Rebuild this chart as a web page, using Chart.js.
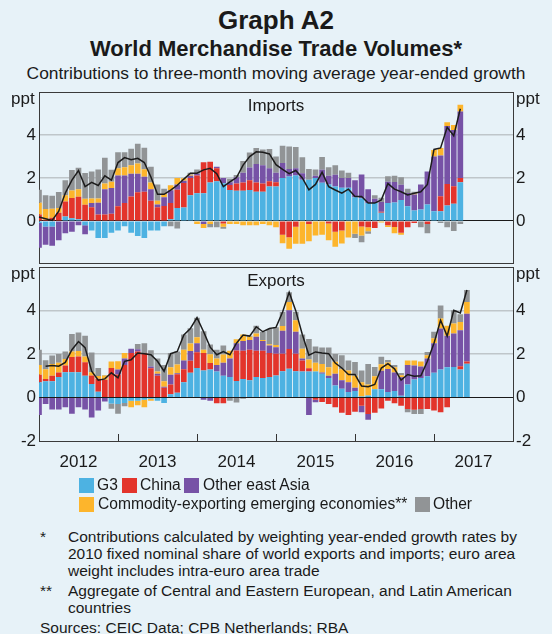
<!DOCTYPE html>
<html>
<head>
<meta charset="utf-8">
<script src="https://cdn.jsdelivr.net/npm/chart.js@4.4.1/dist/chart.umd.min.js"></script>
<style>
  body { margin: 0; background: #e7f2f8; font-family: "Liberation Sans", Arial, sans-serif; color: #1a1a1a; }
  #wrap { position: relative; width: 552px; height: 634px; overflow: hidden; }
  .t { position: absolute; white-space: nowrap; }
  .c { left: 0; width: 552px; text-align: center; }
  canvas { position: absolute; left: 0; }
  .sq { position: absolute; width: 15px; height: 15px; }
  .lg { font-size: 15.6px; line-height: 18px; }
  .fn { font-size: 15.5px; line-height: 17px; }
</style>
</head>
<body>
<div id="wrap">
  <div class="t c" style="top:7px;font-size:26px;line-height:26px;font-weight:bold">Graph A2</div>
  <div class="t c" style="top:38px;font-size:22px;line-height:22px;font-weight:bold">World Merchandise Trade Volumes*</div>
  <div class="t c" style="top:65px;font-size:17.4px;line-height:17px">Contributions to three-month moving average year-ended growth</div>

  <canvas id="imports" width="552" height="198" style="top:79px"></canvas>
  <canvas id="exports" width="552" height="221" style="top:254px"></canvas>

  <div class="t" style="left:11px;top:89px;font-size:17px;line-height:20px">ppt</div>
  <div class="t" style="left:516px;top:89px;font-size:17px;line-height:20px">ppt</div>
  <div class="t" style="left:11px;top:264px;font-size:17px;line-height:20px">ppt</div>
  <div class="t" style="left:516px;top:264px;font-size:17px;line-height:20px">ppt</div>
  <div class="t c" style="top:96px;font-size:17px;line-height:20px">Imports</div>
  <div class="t c" style="top:271px;font-size:17px;line-height:20px">Exports</div>

  <div class="sq" style="left:79px;top:478px;background:#4db2e2"></div>
  <div class="t lg" style="left:97px;top:476px">G3</div>
  <div class="sq" style="left:122px;top:478px;background:#e3342b"></div>
  <div class="t lg" style="left:140px;top:476px">China</div>
  <div class="sq" style="left:184px;top:478px;background:#7752a6"></div>
  <div class="t lg" style="left:203px;top:476px">Other east Asia</div>
  <div class="sq" style="left:79px;top:497px;background:#fdb52c"></div>
  <div class="t lg" style="left:98px;top:495px">Commodity-exporting emerging economies**</div>
  <div class="sq" style="left:415px;top:497px;background:#919496"></div>
  <div class="t lg" style="left:433px;top:495px">Other</div>

  <div class="t fn" style="left:40px;top:528px">*</div>
  <div class="t fn" style="left:68px;top:528px">Contributions calculated by weighting year-ended growth rates by<br>2010 fixed nominal share of world exports and imports; euro area<br>weight includes intra-euro area trade</div>
  <div class="t fn" style="left:40px;top:582px">**</div>
  <div class="t fn" style="left:68px;top:582px">Aggregate of Central and Eastern European, and Latin American<br>countries</div>
  <div class="t fn" style="left:40px;top:619px">Sources: CEIC Data; CPB Netherlands; RBA</div>
</div>

<script>
// monthly slots Jan 2012 .. Jan 2018 (data sits on the month)
const months = [];
for (let y = 2012; y <= 2018; y++) {
  for (let m = 1; m <= 12; m++) {
    if (months.length < 73) months.push(y + '-' + String(m).padStart(2, '0'));
  }
}

const categories = ['G3', 'China', 'Other east Asia', 'Commodity-exporting emerging economies**', 'Other'];
const colours = ['#4db2e2', '#e3342b', '#7752a6', '#fdb52c', '#919496'];

// Imports, ppt, Jan 2012 - May 2017
const impG3 = [-0.1, -0.26, -0.26, 0, 0.2, 0.12, 0.08, -0.2, -0.45, -0.8, -0.8, -0.55, -0.45, -0.25, -0.55, -0.7, -0.8, -0.45, -0.45, -0.25, 0.08, 0.6, 0.62, 1.2, 1.29, 1.29, 1.79, 1.85, 1.75, 1.44, 1.41, 1.41, 1.44, 1.36, 1.36, 1.6, 1.6, 2.0, 2.07, 2.12, 1.92, 1.92, 2.0, 1.78, 1.7, 1.6, 1.55, 1.55, 1.1, 1.06, 0.83, 0.83, 0.38, 0.83, 0.86, 0.98, 0.68, 0.48, 0.53, 0.76, 0.45, 0.45, 0.72, 0.8, 1.8];
const impChina = [0.3, 0.05, 0.15, 0.38, 0.7, 0.95, 1.05, 0.75, 0.64, 0.3, 0.3, 0.33, 0.68, 0.83, 1.14, 1.33, 1.36, 0.94, 0.64, 0.7, 0.75, 0.85, 1.15, 0.8, 0.83, 1.45, 0.97, 0.6, -0.12, 0.23, 0.33, 0.38, 0.45, 0.43, 0.38, 0.25, 0.2, -0.64, -0.76, -0.27, 0, -0.15, 0, 0, -0.12, -0.5, -0.45, 0, 0, -0.26, -0.3, -0.33, 0.05, -0.2, -0.28, -0.55, -0.3, -0.1, 0, -0.15, 0, 0.7, 1.0, 0.82, 0.2];
const impOEA = [-1.15, -0.85, -0.9, -0.9, -0.58, -0.5, -0.2, -0.42, 0.2, 0.55, 1.18, 1.2, 1.44, 1.29, 1.06, 0.87, 0.7, 0.54, 0.12, 0.4, 0.6, 0.25, 0.1, 0.1, 0.08, -0.15, 0, 0.08, 0.25, 0.13, 0.3, 0.45, 0.6, 0.86, 0.86, 0.6, 0.45, 0.7, 0.35, 0.33, 0.3, 0, 0.1, 0.6, 0.4, 0.55, 0.45, 0.45, 0.8, 1.1, 0.65, 0.2, 0.45, 1.0, 0.95, 0.7, 0.62, 0.75, 1.17, 1.54, 2.55, 1.9, 2.7, 2.62, 3.1];
const impComm = [0.55, 0.5, 0.42, 0.22, 0.3, 0.35, 0.35, 0.28, 0.2, 0.2, 0.26, 0.3, 0.33, 0.38, 0.4, 0.48, 0.35, 0.31, 0.18, 0.15, 0.23, 0.3, 0.12, 0.05, -0.15, -0.18, -0.15, 0, -0.15, -0.15, -0.15, -0.2, -0.2, -0.2, -0.15, -0.2, -0.3, -0.4, -0.54, -0.8, -1.06, -0.8, -0.68, -0.65, -0.78, -0.7, -0.6, -0.77, -0.6, -0.42, -0.18, 0, -0.08, -0.08, -0.3, -0.1, 0, 0.05, 0, 0, 0.3, 0.35, 0.18, 0.23, 0.32];
const impOther = [0.6, 0.65, 0.6, 0.75, 0.7, 0.95, 1.0, 1.2, 1.26, 1.35, 1.2, 0.55, 0.75, 0.7, 0.76, 0.92, 1.0, 0.74, 0.76, 0.25, -0.25, -0.35, 0, 0.1, 0.2, 0, -0.15, -0.3, -0.1, 0.17, 0.1, 0.55, 0.7, 0.75, 0.73, 0.9, 0.75, 0.8, 1.05, 1.0, 0.75, 0.5, 0.3, 0.6, 0.4, 0.45, 0.35, 0.25, -0.2, -0.32, -0.12, 0.17, 0.2, 0.25, 0.3, 0.35, 0.2, 0.08, -0.3, -0.42, 0, -0.1, -0.3, -0.47, -0.15];
const impTotal = [0.18, 0.1, 0.02, 0.45, 1.3, 1.9, 2.35, 1.6, 1.8, 1.65, 2.1, 1.9, 2.72, 2.95, 2.85, 2.92, 2.72, 2.05, 1.24, 1.24, 1.44, 1.66, 1.95, 2.22, 2.22, 2.38, 2.45, 2.2, 1.6, 1.82, 2.02, 2.6, 3.0, 3.22, 3.2, 3.12, 2.62, 2.4, 2.2, 2.35, 2.0, 1.45, 1.7, 2.27, 1.6, 1.44, 1.29, 1.48, 1.14, 1.14, 0.83, 0.83, 0.98, 1.74, 1.48, 1.36, 1.21, 1.29, 1.36, 1.7, 3.33, 3.4, 4.36, 3.97, 5.23];

// Exports, ppt, Jan 2012 - Jun 2017
const expG3 = [0.7, 0.75, 0.75, 0.95, 1.17, 1.17, 1.17, 1.0, 0.62, 0.27, 0, -0.27, -0.3, -0.25, -0.15, -0.15, -0.1, -0.05, -0.15, -0.25, 0.15, 0.22, 0.7, 1.14, 1.36, 1.25, 1.29, 1.2, 1.0, 0.95, 0.76, 0.85, 0.8, 0.95, 0.9, 0.95, 1.02, 1.21, 1.32, 1.21, 1.2, 1.2, 1.2, 1.1, 0.9, 0.55, 0.4, 0.25, 0.3, 0.05, 0.1, 0.38, 0.38, 0.26, 0.3, 0.08, 0.6, 0.83, 0.9, 0.98, 1.14, 1.29, 1.4, 1.41, 1.29, 1.56];
const expChina = [0.35, 0.1, 0.25, 0.2, 0.3, 0.7, 0.72, 0.62, 0.4, 0.6, 0.82, 1.36, 1.06, 1.5, 2.05, 2.12, 2.05, 1.35, 1.0, 0.45, 0.45, 0.85, 0.6, 0.55, 0.72, 0.8, 0.3, -0.26, -0.26, 0, 1.41, 1.3, 1.4, 1.2, 1.25, 1.1, 1.0, 0.81, 0.91, 0.81, 0.5, 0.15, -0.1, -0.2, -0.3, -0.45, -0.7, -0.8, -0.65, -0.38, -0.76, -0.7, -0.5, -0.15, -0.26, -0.38, -0.53, -0.56, -0.53, -0.53, -0.6, -0.68, -0.45, 0, 0.15, 0.1];
const expOEA = [-0.8, -0.3, -0.55, -0.55, -0.45, -0.75, -0.45, -0.55, -0.92, -0.6, -0.18, 0, 0.23, 0.3, 0.2, 0.1, 0, 0.08, 0.1, 0.05, 0.45, 0.05, 0.4, 0.45, 0.42, -0.1, -0.15, 0.3, 0.6, 0.85, 0.33, 0.45, 0.45, 0.65, 0.45, 0.35, 0.3, 1.06, 1.79, 1.01, 0.1, -0.8, -0.12, 0.05, 0.1, 0.55, 0.4, 0.45, 0.15, -0.3, -0.26, 0, 0.85, 1.05, 0.85, 0.85, 0.9, 0.64, 0.53, 0.82, 1.36, 1.89, 1.45, 1.54, 1.66, 2.2];
const expComm = [0.45, 0.45, 0.55, 0.45, 0.3, 0.25, 0.25, 0.27, 0.15, 0.12, 0.2, 0.3, 0.38, 0.25, -0.3, -0.2, -0.35, -0.1, 0.1, 0.25, 0.35, 0.4, 0.5, 0.35, 0.27, 0.15, 0.4, 0.3, 0.38, 0.35, 0.18, 0.3, 0.15, 0.15, 0.05, 0.05, 0.1, 0.21, 0.38, 0.53, 0.45, 0.4, 0.4, 0.4, 0.4, 0.55, 0.5, 0.55, 0.55, 0.65, 0.5, 0.6, 0.3, 0.3, 0.25, 0.1, 0.2, 0.23, 0.23, 0.15, 0.23, 0.46, 0.45, 0.46, 0.38, 0.54];
const expOther = [0.7, 0.42, 0.38, 0.4, 0.35, 0.8, 0.86, 0.95, 0.9, 0.37, 0.02, -0.25, -0.45, -0.15, 0, 0.25, 0.45, 0.75, 0.6, 0.75, 0.65, 0.6, 0.7, 0.7, 0.9, 0.85, 0.45, 0.4, 0.42, -0.15, -0.23, -0.05, 0.05, 0.35, 0.38, 0.7, 0.82, 0.65, 0.45, 0.38, 0.65, 0.95, 0.75, 0.75, 0.9, 0.35, 0.65, 0.45, 0.64, 0.55, 0.95, 0.43, 0.35, 0.12, 0.1, 0.1, -0.15, -0.2, -0.23, 0.15, 0.3, 0.6, 0, 0.61, 0.35, 0.55];
const expTotal = [null, 1.44, 1.48, 1.44, 1.62, 2.2, 2.58, 2.3, 1.21, 0.8, 0.86, 1.14, 0.91, 1.67, 1.74, 2.05, 2.02, 1.97, 1.67, 1.21, 2.02, 2.12, 2.88, 3.18, 3.68, 3.03, 2.32, 1.97, 2.12, 1.97, 2.5, 2.88, 2.83, 3.26, 3.03, 3.18, 3.23, 3.94, 4.85, 4.0, 2.9, 1.95, 2.1, 2.05, 2.02, 1.59, 1.36, 1.06, 1.06, 0.53, 0.5, 0.6, 1.36, 1.56, 1.32, 0.8, 1.06, 0.98, 1.0, 1.67, 2.5, 3.56, 2.83, 4.02, 3.89, 4.95];

const yTicks = [-2, 0, 2, 4, 6];

Chart.defaults.font.family = '"Liberation Sans", Arial, sans-serif';
Chart.defaults.font.size = 17;
Chart.defaults.color = '#1a1a1a';

// little year ticks poking up from the bottom axis
const yearTicks = {
  id: 'yearTicks',
  afterDatasetsDraw(chart) {
    if (!chart.options.plugins.yearTicks.show) return;
    const xs = chart.scales.x, a = chart.chartArea, ctx = chart.ctx;
    ctx.save();
    ctx.strokeStyle = '#333';
    ctx.lineWidth = 1;
    months.forEach((m, i) => {
      if (i > 0 && i < months.length - 1 && m.endsWith('-01')) {
        const px = Math.round(xs.getPixelForValue(i)) + 0.5;
        ctx.beginPath();
        ctx.moveTo(px, a.bottom);
        ctx.lineTo(px, a.bottom - 7);
        ctx.stroke();
      }
    });
    ctx.restore();
  }
};

function makeChart(id, series, total, isExports) {
  const datasets = series.map((vals, k) => ({
    label: categories[k],
    data: vals,
    backgroundColor: colours[k],
    borderWidth: 0,
    barPercentage: 0.86,
    categoryPercentage: 1,
    order: 1,
    clip: 0
  }));
  datasets.push({
    type: 'line',
    label: 'Total',
    data: total,
    borderColor: '#1c1c1c',
    borderWidth: 1.5,
    pointRadius: 0,
    tension: 0,
    stack: 'total',
    order: 0
  });

  const lowest = isExports ? -2 : 0;
  const yLabel = (v) => (v >= lowest && v <= 4 ? v : '');

  return new Chart(document.getElementById(id), {
    type: 'bar',
    data: { labels: months, datasets: datasets },
    options: {
      responsive: false,
      animation: false,
      devicePixelRatio: 1,
      layout: { autoPadding: false, padding: { top: 11, bottom: isExports ? 5 : 11, left: 0, right: 0 } },
      plugins: { legend: { display: false }, tooltip: { enabled: false }, yearTicks: { show: isExports } },
      scales: {
        x: {
          display: isExports,
          stacked: true,
          offset: false,
          grid: { display: false, offset: false },
          border: { display: true, color: '#3a3a3a' },
          ticks: {
            autoSkip: false,
            maxRotation: 0,
            padding: 3,
            callback: (v, i) => (months[i].endsWith('-07') ? months[i].slice(0, 4) : '')
          },
          afterFit: (s) => { s.height = isExports ? 29 : 0; }
        },
        y: {
          stacked: true,
          min: -2, max: 6,
          afterBuildTicks: (s) => { s.ticks = yTicks.map(v => ({ value: v })); },
          ticks: { padding: 3, callback: yLabel },
          grid: {
            drawTicks: false,
            color: (c) => {
              const v = c.tick.value;
              if (v === 0) return '#1a1a1a';
              if (v === 6 || v === -2) return '#3a3a3a';
              return '#bfc6ca';
            },
            lineWidth: (c) => (c.tick.value === 2 || c.tick.value === 4 ? 1.5 : 1)
          },
          border: { display: true, color: '#3a3a3a' },
          afterFit: (s) => { s.width = 39; }
        },
        yRight: {
          position: 'right',
          min: -2, max: 6,
          afterBuildTicks: (s) => { s.ticks = yTicks.map(v => ({ value: v })); },
          ticks: { padding: 3, callback: yLabel },
          grid: { display: false, drawTicks: false },
          border: { display: true, color: '#3a3a3a' },
          afterFit: (s) => { s.width = 39; }
        }
      }
    },
    plugins: [yearTicks]
  });
}

makeChart('imports', [impG3, impChina, impOEA, impComm, impOther], impTotal, false);
makeChart('exports', [expG3, expChina, expOEA, expComm, expOther], expTotal, true);
</script>
</body>
</html>
